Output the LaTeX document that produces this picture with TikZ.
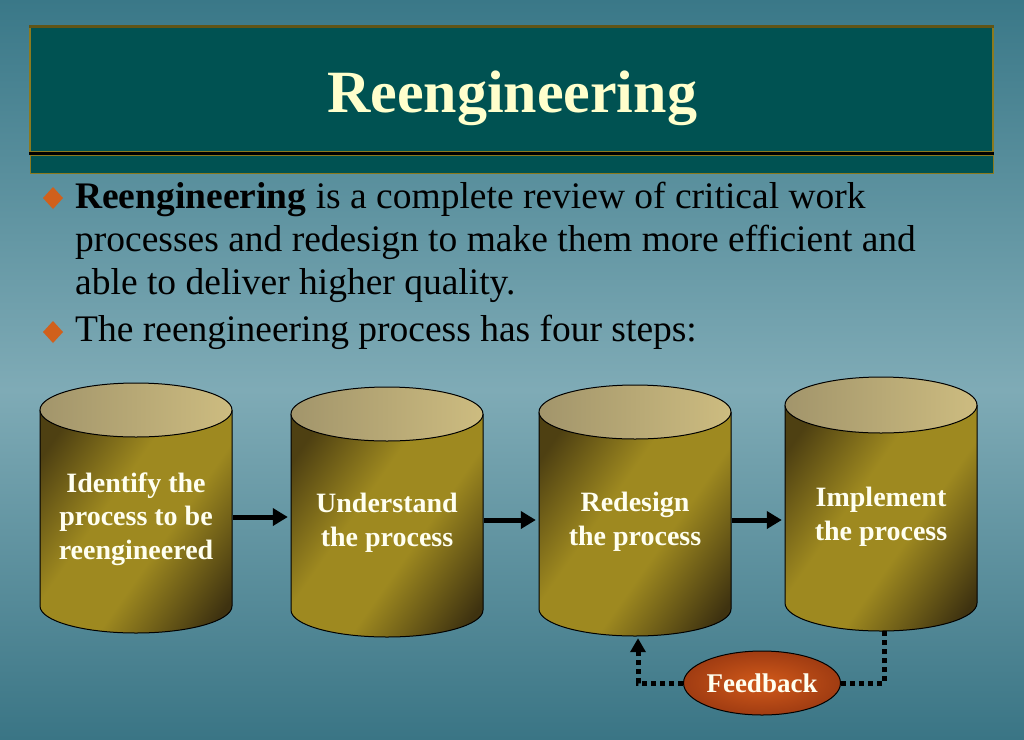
\documentclass[tikz,border=0pt]{standalone}
\usepackage{fontspec}
\setmainfont{Liberation Serif}
\usetikzlibrary{shapes.geometric,arrows.meta,calc}
\definecolor{bgtop}{HTML}{3A7888}
\definecolor{bgmid}{HTML}{7FABB6}
\definecolor{bgbot}{HTML}{3A7585}
\definecolor{barteal}{HTML}{005252}
\definecolor{bargold}{HTML}{8B7A1F}
\definecolor{titlecream}{HTML}{FFFFCC}
\definecolor{bulletorange}{HTML}{D0601C}
\definecolor{cylL}{HTML}{4E4012}
\definecolor{cylM}{HTML}{9E8920}
\definecolor{cylR}{HTML}{3E3210}
\definecolor{topL}{HTML}{A2956B}
\definecolor{topR}{HTML}{CDBC80}
\definecolor{fbin}{HTML}{D25A1A}
\definecolor{fbout}{HTML}{A03C12}
\definecolor{cyltext}{HTML}{FFFFF0}
\pgfdeclarehorizontalshading{cylshade}{100bp}{color(0bp)=(cylL); color(22bp)=(cylL); color(42bp)=(cylM); color(58bp)=(cylM); color(80bp)=(cylR); color(100bp)=(cylR)}
\tikzset{
  bodytext/.style={anchor=base west, inner sep=0pt, text=black, font=\fontsize{37.5}{43}\selectfont},
  cylbox/.style={minimum width=192pt, inner sep=0pt},
  cyllabel/.style={align=center, text=cyltext, font=\bfseries\fontsize{28}{33.5}\selectfont, inner sep=0pt},
  flowarrow/.style={line width=5pt, -{Triangle[length=15pt,width=17pt]}, shorten >=3pt, shorten <=1pt},
  dotline/.style={line width=5pt, dash pattern=on 5pt off 4pt},
}
\newcommand{\mybullet}[3]{% name, x, y
  \fill[bulletorange] (#2,-#3+11) -- (#2+10,-#3) -- (#2,-#3-11) -- (#2-10,-#3) -- cycle;
  \coordinate (#1) at (#2,-#3);
}
\newcommand{\mycyl}[5]{% cx, ytop-center, ybottom-center, name, ry
  \shade[shading=cylshade, shading angle=-35]
    (#1-96,-#2) -- (#1-96,-#3) arc[start angle=180, end angle=360, x radius=96, y radius=#5] -- (#1+96,-#2) -- cycle;
  \draw[line width=1pt] (#1-96,-#2) -- (#1-96,-#3) arc[start angle=180, end angle=360, x radius=96, y radius=#5] -- (#1+96,-#2);
  \shade[left color=topL, right color=topR, draw=black, line width=1pt] (#1,-#2) ellipse[x radius=96, y radius=#5];
  \node[cylbox, minimum height={#3-#2+2*#5}] (#4) at (#1,{-(#2+#3)/2}) {};
}
\begin{document}
\begin{tikzpicture}[x=1pt,y=1pt]
\useasboundingbox (0,0) rectangle (1024,-739);
% background
\shade[top color=bgtop, bottom color=bgmid] (0,0) rectangle (1024,-390);
\shade[top color=bgmid, bottom color=bgbot] (0,-390) rectangle (1024,-739);
% title bar
\node[draw=bargold, line width=1.5pt, fill=barteal, minimum width=963pt, minimum height=125pt, inner sep=0pt] (bar) at (511.5,-89.5) {};
\draw[line width=2.5pt, color=bargold!70!black] (bar.north west) -- (bar.north east);
\node[draw=bargold, line width=1pt, fill=barteal, minimum width=963pt, minimum height=18pt, inner sep=0pt] (strip) at (511.5,-164) {};
\draw[line width=3pt] (bar.south west) ++(0,-1) -- ([yshift=-1pt]bar.south east);
\node[anchor=base, inner sep=0pt, text=titlecream, font=\bfseries\fontsize{60}{60}\selectfont] (title) at (512,-112) {Reengineering};
% bullets
\mybullet{d1}{53}{198}
\node[bodytext] (b1) at (75,-208) {\textbf{Reengineering} is a complete review of critical work};
\node[bodytext] (b2) at (75,-251) {processes and redesign to make them more efficient and};
\node[bodytext] (b3) at (75,-294) {able to deliver higher quality.};
\mybullet{d2}{53}{332}
\node[bodytext] (b4) at (75,-341) {The reengineering process has four steps:};
% cylinders
\mycyl{136}{410}{606}{c1}{27}
\mycyl{387}{414}{610}{c2}{27}
\mycyl{635}{412}{609}{c3}{27}
\mycyl{881}{405}{603}{c4}{28}
\node[cyllabel] (t1) at (136,-519) {Identify the\\process to be\\reengineered};
\node[cyllabel] (t2) at (387,-523) {Understand\\the process};
\node[cyllabel] (t3) at (635,-522) {Redesign\\the process};
\node[cyllabel] (t4) at (881,-517) {Implement\\the process};
% flow arrows
\draw[flowarrow] (c1.east |- 0,-517) -- (c2.west |- 0,-517);
\draw[flowarrow] (c2.east |- 0,-520) -- (c3.west |- 0,-520);
\draw[flowarrow] (c3.east |- 0,-520) -- (c4.west |- 0,-520);
% feedback
\node[ellipse, draw=black, line width=1pt, inner color=fbin, outer color=fbout, minimum width=154pt, minimum height=64pt, inner sep=0pt,
      text=cyltext, font=\bfseries\fontsize{27}{33}\selectfont] (fb) at (762,-683) {Feedback};
\draw[dotline] (fb.east) -| ([xshift=3pt]c4.south);
\draw[dotline, -{Triangle[length=14pt,width=15pt]}] (fb.west) -| ([xshift=3pt,yshift=-2pt]c3.south);
\end{tikzpicture}
\end{document}
